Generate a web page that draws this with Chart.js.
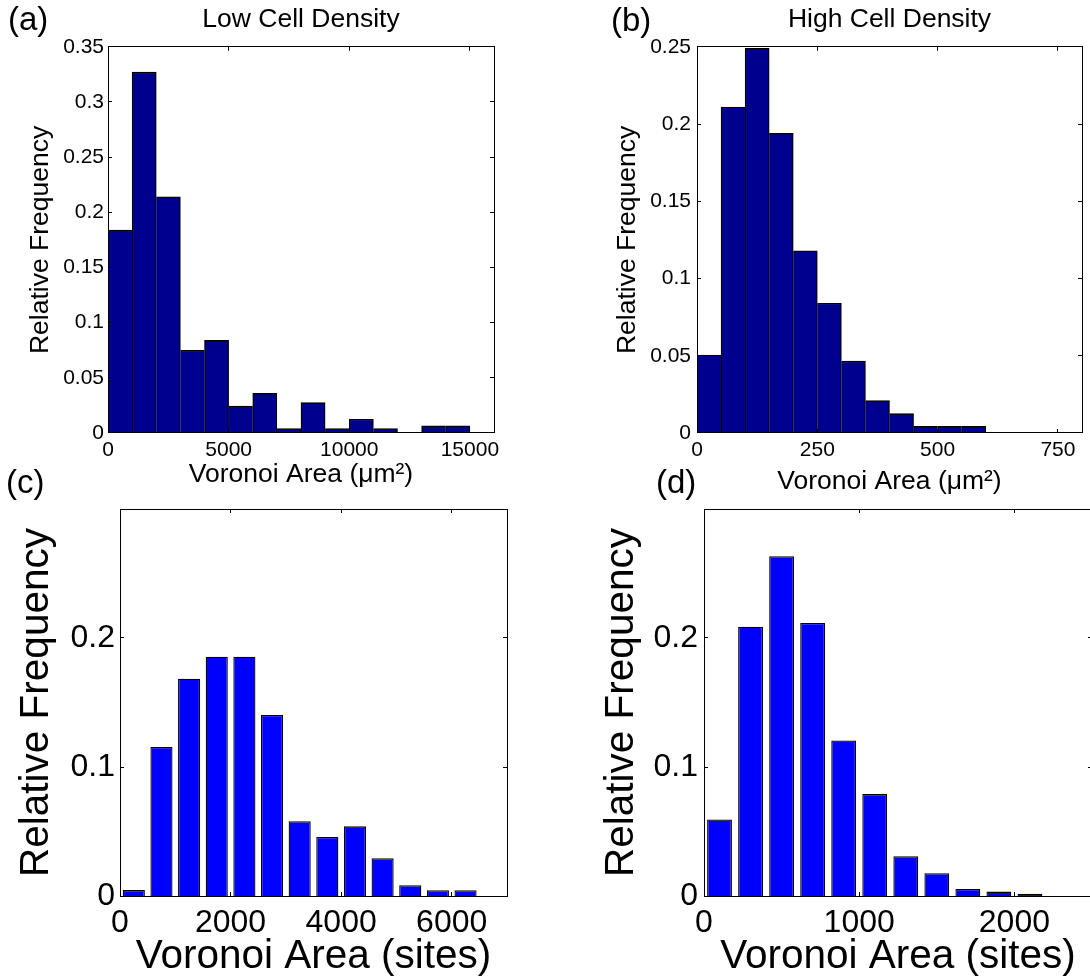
<!DOCTYPE html>
<html lang="en">
<head>
<meta charset="utf-8">
<title>Voronoi Area histograms</title>
<script src="https://cdn.jsdelivr.net/npm/chart.js@4.4.0/dist/chart.umd.min.js"></script>
<style>
    html, body { margin: 0; padding: 0; background: #fff; overflow: hidden; }
    body { position: relative; width: 1090px; height: 980px; font-family: "Liberation Sans", Arial, sans-serif; }
    canvas { position: absolute; }
    .panel-tag { position: absolute; font-size: 33px; line-height: 33px; color: #000; white-space: nowrap; }
</style>
</head>
<body>
<canvas id="chartA" width="545" height="500" style="left:0px;top:0px"></canvas>
<canvas id="chartB" width="545" height="500" style="left:545px;top:0px"></canvas>
<canvas id="chartC" width="545" height="502" style="left:0px;top:480px"></canvas>
<canvas id="chartD" width="555" height="502" style="left:545px;top:480px"></canvas>
<div class="panel-tag" style="left:8px;top:2px">(a)</div>
<div class="panel-tag" style="left:611px;top:3px">(b)</div>
<div class="panel-tag" style="left:6px;top:465px">(c)</div>
<div class="panel-tag" style="left:656px;top:465px">(d)</div>
<script>
const FONT = '"Liberation Sans", Arial, sans-serif';

// (a) faible densité : centres des classes (µm²) et fréquences
const lowAreaBins = [500, 1500, 2500, 3500, 4500, 5500, 6500, 7500, 8500, 9500, 10500, 11500, 12500, 13500, 14500, 15500];
const lowAreaFreq = [0.184, 0.327, 0.214, 0.075, 0.084, 0.0245, 0.036, 0.004, 0.0275, 0.004, 0.0125, 0.004, 0, 0.0065, 0.0065, 0];
const lowAreaXTicks = [0, 5000, 10000, 15000];
const lowAreaYTicks = [0, 0.05, 0.1, 0.15, 0.2, 0.25, 0.3, 0.35];

// (b) forte densité
const highAreaBins = [25, 75, 125, 175, 225, 275, 325, 375, 425, 475, 525, 575, 625, 675, 725, 775];
const highAreaFreq = [0.0505, 0.211, 0.249, 0.194, 0.118, 0.084, 0.0465, 0.021, 0.0125, 0.0043, 0.0043, 0.0043, 0, 0, 0, 0];
const highAreaXTicks = [0, 250, 500, 750];
const highAreaYTicks = [0, 0.05, 0.1, 0.15, 0.2, 0.25];

// (c) simulation, faible densité (sites)
const lowSitesBins = [250, 750, 1250, 1750, 2250, 2750, 3250, 3750, 4250, 4750, 5250, 5750, 6250];
const lowSitesFreq = [0.0047, 0.1155, 0.1685, 0.1855, 0.1855, 0.1403, 0.0579, 0.0457, 0.054, 0.0293, 0.0084, 0.0045, 0.0045];
const lowSitesXTicks = [0, 2000, 4000, 6000];

// (d) simulation, forte densité (sites)
const highSitesBins = [100, 300, 500, 700, 900, 1100, 1300, 1500, 1700, 1900, 2100];
const highSitesFreq = [0.0593, 0.2088, 0.2634, 0.2116, 0.1206, 0.0791, 0.0309, 0.0176, 0.0054, 0.0034, 0.0017];
const highSitesXTicks = [0, 1000, 2000];

const sitesYTicks = [0, 0.1, 0.2];

// Cadre fermé avec graduations vers l'intérieur (style MATLAB)
const framePlugin = {
    id: 'frame',
    afterDatasetsDraw(chart, args, opts) {
        const { ctx, chartArea: a, scales } = chart;
        const len = opts.tickLen || 4;
        const px = v => Math.floor(v) + 0.5;
        ctx.save();
        ctx.strokeStyle = '#000';
        ctx.lineWidth = 1;
        ctx.beginPath();
        scales.x.ticks.forEach(t => {
            if (t.value <= scales.x.min || t.value >= scales.x.max) return;
            const x = px(scales.x.getPixelForValue(t.value));
            ctx.moveTo(x, a.bottom); ctx.lineTo(x, a.bottom - len);
            ctx.moveTo(x, a.top); ctx.lineTo(x, a.top + len);
        });
        scales.y.ticks.forEach(t => {
            if (t.value <= scales.y.min || t.value >= scales.y.max) return;
            const y = px(scales.y.getPixelForValue(t.value));
            ctx.moveTo(a.left, y); ctx.lineTo(a.left + len, y);
            ctx.moveTo(a.right, y); ctx.lineTo(a.right - len, y);
        });
        ctx.stroke();
        ctx.strokeRect(px(a.left), px(a.top), Math.round(a.right - a.left), Math.round(a.bottom - a.top));
        ctx.restore();
    }
};

// Bordure partagée entre classes voisines : une seule ligne, tracée par la plus haute
function histBorder(values, w) {
    return function(c) {
        const i = c.dataIndex;
        const v = values[i];
        const prev = i > 0 ? values[i - 1] : -1;
        const next = i < values.length - 1 ? values[i + 1] : -1;
        return { top: w, left: prev <= v ? w : 0, right: next < v ? w : 0, bottom: 0 };
    };
}

function createPanel(id, p) {
    const canvas = document.getElementById(id);
    return new Chart(canvas, {
        type: 'bar',
        data: {
            datasets: [{
                data: p.bins.map((x, i) => ({ x: x, y: p.freq[i] })),
                backgroundColor: p.color,
                borderColor: '#000',
                borderWidth: p.contiguous ? histBorder(p.freq, 1.3) : 1.3,
                borderSkipped: 'start',
                barPercentage: p.barPct,
                categoryPercentage: 1
            }]
        },
        options: {
            responsive: false,
            animation: false,
            devicePixelRatio: 1,
            layout: { padding: p.padding },
            plugins: {
                legend: { display: false },
                tooltip: { enabled: false },
                title: p.title ? {
                    display: true,
                    text: p.title,
                    fullSize: false,
                    color: '#000',
                    font: { family: FONT, size: 26.5, weight: 'normal' },
                    padding: { top: 4, bottom: 11 }
                } : { display: false },
                frame: { tickLen: 4 }
            },
            scales: {
                x: {
                    type: 'linear',
                    min: 0,
                    max: p.xMax,
                    offset: false,
                    grid: { display: false, drawTicks: false },
                    border: { display: false },
                    afterBuildTicks: s => { s.ticks = p.xTicks.map(v => ({ value: v })); },
                    afterFit: s => { s.height = p.xAxisHeight; },
                    ticks: {
                        color: '#000',
                        padding: p.xTickPad,
                        maxRotation: 0,
                        autoSkip: false,
                        font: { family: FONT, size: p.tickSize },
                        callback: v => String(v)
                    },
                    title: {
                        display: true,
                        text: p.xLabel,
                        color: '#000',
                        font: { family: FONT, size: p.labelSize },
                        padding: { top: 0, bottom: p.xLabelPad }
                    }
                },
                y: {
                    type: 'linear',
                    min: 0,
                    max: p.yMax,
                    grid: { display: false, drawTicks: false },
                    border: { display: false },
                    afterBuildTicks: s => { s.ticks = p.yTicks.map(v => ({ value: v })); },
                    afterFit: s => { s.width = p.yAxisWidth; },
                    ticks: {
                        color: '#000',
                        padding: p.yTickPad,
                        autoSkip: false,
                        font: { family: FONT, size: p.tickSize },
                        callback: v => String(v)
                    },
                    title: {
                        display: true,
                        text: 'Relative Frequency',
                        color: '#000',
                        font: { family: FONT, size: p.labelSize },
                        padding: { top: p.yLabelPad, bottom: 0 }
                    }
                }
            }
        },
        plugins: [framePlugin]
    });
}

document.addEventListener('DOMContentLoaded', function() {
    createPanel('chartA', {
        bins: lowAreaBins, freq: lowAreaFreq, xTicks: lowAreaXTicks, yTicks: lowAreaYTicks,
        xMax: 16000, yMax: 0.35, color: '#00008f', contiguous: true, barPct: 1,
        title: 'Low Cell Density', xLabel: 'Voronoi Area (\u03bcm\u00b2)',
        padding: { left: 0, top: 0, right: 51, bottom: 0 },
        yAxisWidth: 108, xAxisHeight: 67, tickSize: 21, labelSize: 26.5,
        xTickPad: 5, yTickPad: 4, xLabelPad: 9, yLabelPad: 25
    });

    createPanel('chartB', {
        bins: highAreaBins, freq: highAreaFreq, xTicks: highAreaXTicks, yTicks: highAreaYTicks,
        xMax: 800, yMax: 0.25, color: '#00008f', contiguous: true, barPct: 1,
        title: 'High Cell Density', xLabel: 'Voronoi Area (\u03bcm\u00b2)',
        padding: { left: 0, top: 0, right: 8, bottom: 0 },
        yAxisWidth: 152, xAxisHeight: 67, tickSize: 21, labelSize: 26.5,
        xTickPad: 5, yTickPad: 6, xLabelPad: 2, yLabelPad: 67
    });

    createPanel('chartC', {
        bins: lowSitesBins, freq: lowSitesFreq, xTicks: lowSitesXTicks, yTicks: sitesYTicks,
        xMax: 7000, yMax: 0.3, color: '#0000ff', contiguous: false, barPct: 0.8,
        title: null, xLabel: 'Voronoi Area (sites)',
        padding: { left: 0, top: 29, right: 38, bottom: 0 },
        yAxisWidth: 120, xAxisHeight: 86, tickSize: 32, labelSize: 40.5,
        xTickPad: 8, yTickPad: 5, xLabelPad: 1, yLabelPad: 13
    });

    createPanel('chartD', {
        bins: highSitesBins, freq: highSitesFreq, xTicks: highSitesXTicks, yTicks: sitesYTicks,
        xMax: 2500, yMax: 0.3, color: '#0000ff', contiguous: false, barPct: 0.8,
        title: null, xLabel: 'Voronoi Area (sites)',
        padding: { left: 0, top: 29, right: 8, bottom: 0 },
        yAxisWidth: 159, xAxisHeight: 86, tickSize: 32, labelSize: 40.5,
        xTickPad: 8, yTickPad: 6, xLabelPad: 1, yLabelPad: 53
    });
});
</script>
</body>
</html>
